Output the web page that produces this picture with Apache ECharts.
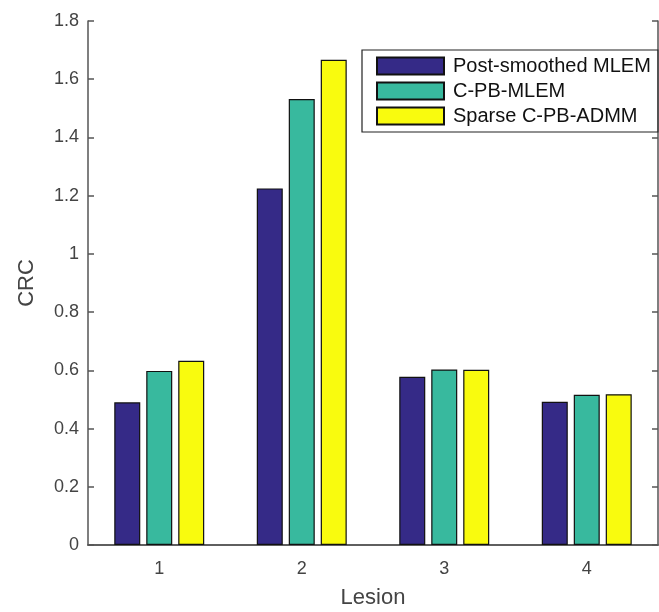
<!DOCTYPE html>
<html style="height: 100%">
 <head>
  <meta charset="utf-8" />
  <script type="text/javascript" src="https://cdn.jsdelivr.net/npm/echarts@6/dist/echarts.min.js"></script>
 </head>
 <body style="height: 100%; margin: 0; background: #fff">
  <div id="main" style="height:612px;width:659px;"></div>
  <script type="text/javascript">
   var lesions = ['1', '2', '3', '4'];
   var seriesNames = ['Post-smoothed MLEM', 'C-PB-MLEM', 'Sparse C-PB-ADMM'];
   var mlem = [0.490, 1.225, 0.578, 0.492];
   var cpbMlem = [0.598, 1.532, 0.603, 0.516];
   var sparseAdmm = [0.633, 1.667, 0.602, 0.518];
   var barColors = ['#352a87', '#38b99e', '#f9fb0e'];

   var myChart = echarts.init(document.getElementById('main'));
   var axisGray = '#555555';
   var textGray = '#444444';
   var font = 'Liberation Sans, Arial, sans-serif';

   function makeBar(name, data, color) {
       return {
           name: name,
           type: 'bar',
           xAxisIndex: 0,
           yAxisIndex: 0,
           data: data,
           barWidth: 26,
           barGap: '23%',
           itemStyle: { color: color, borderColor: '#111', borderWidth: 1.2 }
       };
   }

   var option = {
       animation: false,
       textStyle: { fontFamily: font },
       grid: { left: 88, right: 1, top: 21, bottom: 67, containLabel: false, outerBoundsMode: 'none' },
       legend: {
           orient: 'vertical',
           left: 362,
           top: 50,
           data: seriesNames,
           icon: 'rect',
           itemWidth: 67,
           itemHeight: 17,
           itemGap: 5,
           padding: [6, 7, 6, 14],
           borderColor: '#222',
           borderWidth: 1.2,
           backgroundColor: '#fff',
           textStyle: { fontSize: 20, color: '#111', fontFamily: font, padding: [0, 0, 0, 4] }
       },
       xAxis: [{
           type: 'category',
           data: lesions,
           name: 'Lesion',
           nameLocation: 'middle',
           nameGap: 42,
           nameTextStyle: { fontSize: 22, color: textGray },
           axisLine: { lineStyle: { color: axisGray, width: 1.5 } },
           axisTick: { alignWithLabel: true, inside: true, length: 6, lineStyle: { color: axisGray, width: 1.5 } },
           axisLabel: { fontSize: 18, color: textGray, margin: 15 },
           splitLine: { show: false }
       }, {
           type: 'category',
           data: lesions,
           position: 'top',
           axisLine: { lineStyle: { color: axisGray, width: 1.5 } },
           axisTick: { alignWithLabel: true, inside: true, length: 6, lineStyle: { color: axisGray, width: 1.5 } },
           axisLabel: { show: false }
       }],
       yAxis: [{
           type: 'value',
           min: 0,
           max: 1.8,
           interval: 0.2,
           name: 'CRC',
           nameLocation: 'middle',
           nameGap: 50,
           nameTextStyle: { fontSize: 22, color: textGray },
           axisLine: { show: true, lineStyle: { color: axisGray, width: 1.5 } },
           axisTick: { show: true, inside: true, length: 6, lineStyle: { color: axisGray, width: 1.5 } },
           axisLabel: { fontSize: 18, color: textGray, margin: 9 },
           splitLine: { show: false }
       }, {
           type: 'value',
           min: 0,
           max: 1.8,
           interval: 0.2,
           position: 'right',
           axisLine: { show: true, lineStyle: { color: axisGray, width: 1.5 } },
           axisTick: { show: true, inside: true, length: 6, lineStyle: { color: axisGray, width: 1.5 } },
           axisLabel: { show: false },
           splitLine: { show: false }
       }],
       series: [
           makeBar(seriesNames[0], mlem, barColors[0]),
           makeBar(seriesNames[1], cpbMlem, barColors[1]),
           makeBar(seriesNames[2], sparseAdmm, barColors[2])
       ]
   };
   myChart.setOption(option);
  </script>
 </body>
</html>
